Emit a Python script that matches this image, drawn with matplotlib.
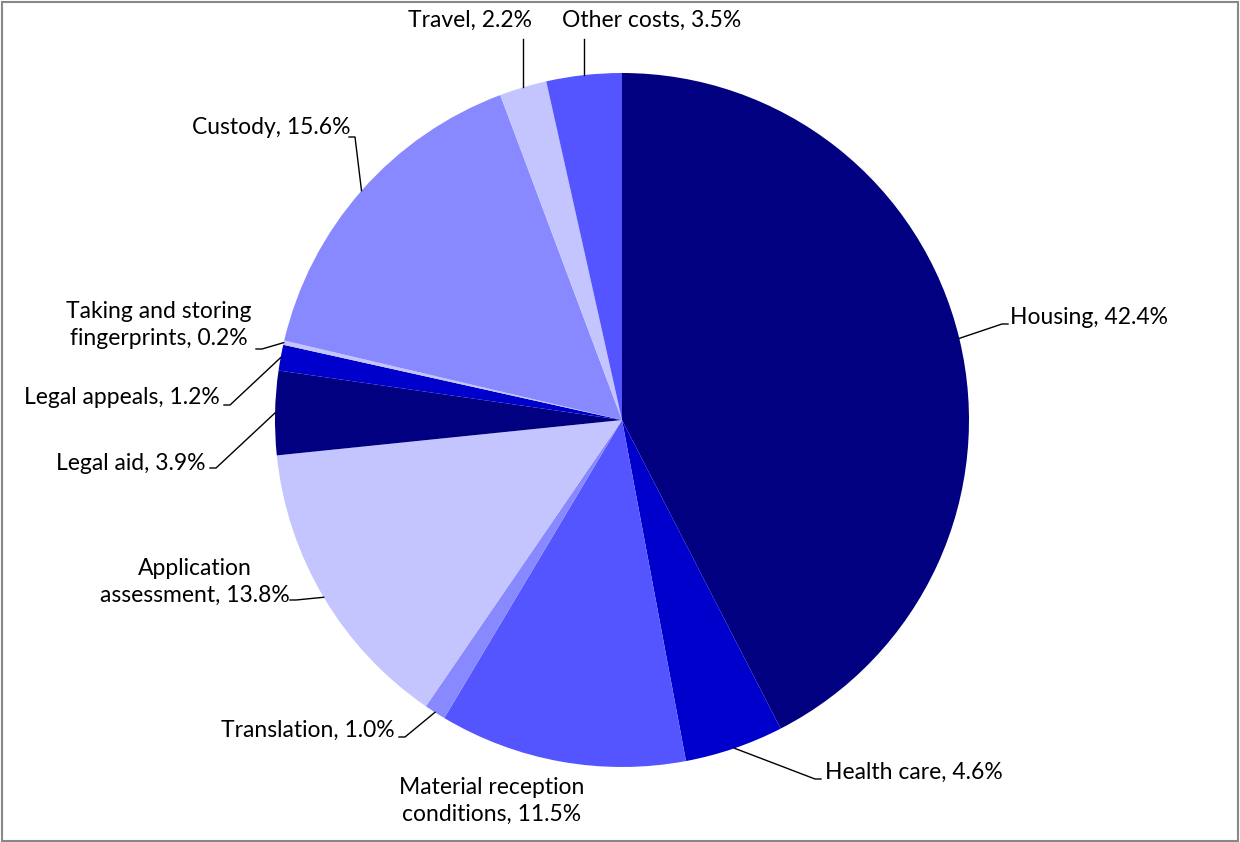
import numpy as np
import matplotlib
matplotlib.use('Agg')
from matplotlib import pyplot as plt
from matplotlib.patches import Rectangle

plt.rcParams['font.family'] = ['Lato', 'DejaVu Sans']

# data, clockwise from 12 o'clock
categories = ['Housing', 'Health care', 'Material reception\nconditions', 'Translation',
              'Application\nassessment', 'Legal aid', 'Legal appeals',
              'Taking and storing\nfingerprints', 'Custody', 'Travel', 'Other costs']
shares = [42.4, 4.6, 11.5, 1.0, 13.8, 3.9, 1.2, 0.2, 15.6, 2.2, 3.5]
colors = ['#000080', '#0000CC', '#5555FF', '#8888FF', '#C4C4FF', '#000080',
          '#0000CC', '#C4C4FF', '#8888FF', '#C4C4FF', '#5555FF']

# label layout in pixel coords (top-left origin): text anchor x, y, ha, elbow point
layout = [
    (1010, 318, 'left', (1002, 324)),
    (825, 772, 'left', (815, 779)),
    (492, 801, 'center', None),
    (395, 730, 'right', (405, 737)),
    (290, 582, 'right', (296, 600)),
    (205, 463, 'right', (216, 468)),
    (220, 397, 'right', (230, 405)),
    (252, 325, 'right', (262, 349)),
    (350, 127, 'right', (355, 137)),
    (470, 20, 'center', (523, 39)),
    (652, 20, 'center', (584, 39)),
]

W, H = 1240, 842
cx, cy, R = 622, H - 420, 347

fig = plt.figure(figsize=(12.4, 8.42), dpi=100)
ax = fig.add_axes([0, 0, 1, 1])

wedges, _ = ax.pie(shares, colors=colors, startangle=90, counterclock=False,
                   center=(cx, cy), radius=R, wedgeprops={'linewidth': 0},
                   frame=True)
ax.set_xlim(0, W)
ax.set_ylim(0, H)
ax.set_aspect('equal')
ax.axis('off')

for w, cat, val, (tx, ty, ha, elbow) in zip(wedges, categories, shares, layout):
    label = '%s, %.1f%%' % (cat, val)
    ax.text(tx, H - ty, label, ha=ha, va='center', fontsize=16.5,
            color='#000000', multialignment='center', linespacing=1.35)
    if elbow is None:
        continue
    mid = np.deg2rad((w.theta1 + w.theta2) / 2)
    px, py = cx + R * np.cos(mid), cy + R * np.sin(mid)
    ex, ey = elbow[0], H - elbow[1]
    if ha == 'center':
        ax.plot([ex, ex], [py, ey], color='black', lw=1)
    else:
        end = ex + (6 if ha == 'left' else -6)
        ax.plot([px, ex, end], [py, ey, ey], color='black', lw=1)

fig.patches.append(Rectangle((0.002, 0.001), 0.996, 0.997, transform=fig.transFigure,
                             fill=False, edgecolor='#888888', lw=1.5))

fig.savefig('out.png', dpi=100)
